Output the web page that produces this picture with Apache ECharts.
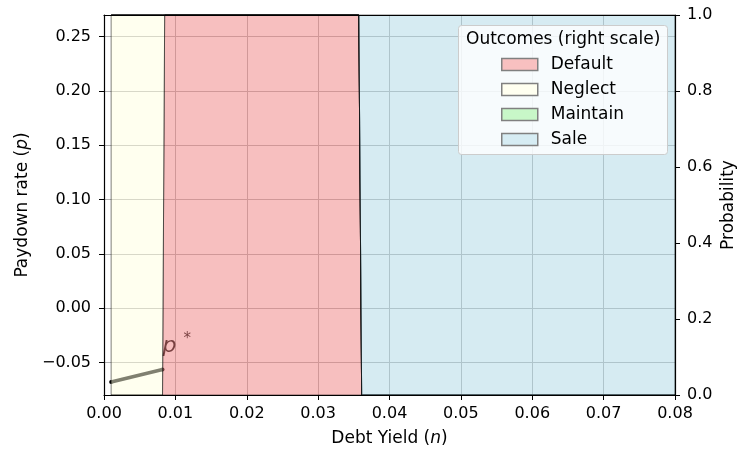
<!DOCTYPE html>
<html>
<head>
<meta charset="utf-8">
<script src="https://cdn.jsdelivr.net/npm/echarts@6/dist/echarts.min.js"></script>
<style>
  html, body { margin: 0; padding: 0; background: #fff; }
  #chart { width: 740px; height: 449px; }
</style>
</head>
<body>
<div id="chart"></div>
<script>
// Debt-yield grid where the outcome probabilities are sampled
const debtYield = [0.001, 0.0082, 0.0085, 0.0357, 0.0361, 0.08];
// Outcome probabilities (right scale), stacked in this order
const probDefault  = [0, 0, 1, 1, 0, 0];
const probNeglect  = [1, 1, 0, 0, 0, 0];
const probMaintain = [0, 0, 0, 0, 0, 0];
const probSale     = [0, 0, 0, 0, 1, 1];
// Optimal paydown rate p* over the neglect region
const pstarYield = [0.001, 0.0082];
const pstarRate  = [-0.068, -0.0565];
// Tick values
const paydownTicks = [-0.05, 0.00, 0.05, 0.10, 0.15, 0.20, 0.25];
const outcomeNames = ['Default', 'Neglect', 'Maintain', 'Sale'];
const outcomeColors = ['#f08080', '#ffffe0', '#90ee90', '#add8e6'];

const FONT = 'DejaVu Sans';
const FS_TICK = 16;
const FS_TEXT = 17;
const fmtMinus = (v, d) => v.toFixed(d).replace('-', '\u2212');

const chart = echarts.init(document.getElementById('chart'), null, { renderer: 'canvas' });

const rgba = (hex, a) => {
  const n = parseInt(hex.slice(1), 16);
  return `rgba(${(n >> 16) & 255},${(n >> 8) & 255},${n & 255},${a})`;
};
const blendHalf = (hex) => {
  const n = parseInt(hex.slice(1), 16);
  const m = (c) => Math.round((c + 255) / 2);
  return `rgb(${m((n >> 16) & 255)},${m((n >> 8) & 255)},${m(n & 255)})`;
};

// Cumulative bands of the stacked probabilities
const layers = [probDefault, probNeglect, probMaintain, probSale];
const bands = [];
let running = debtYield.map(() => 0);
layers.forEach((ys) => {
  const lower = running.slice();
  const upper = running.map((v, i) => v + ys[i]);
  bands.push({ lower, upper });
  running = upper;
});

// One filled polygon per outcome, edges drawn like a stackplot
const bandSeries = (idx) => ({
  name: outcomeNames[idx],
  type: 'custom',
  xAxisIndex: 0,
  yAxisIndex: 1,
  z: 3,
  data: debtYield.map((x, i) => [x, bands[idx].lower[i], bands[idx].upper[i]]),
  encode: { x: 0, y: [1, 2] },
  itemStyle: { color: outcomeColors[idx] },
  renderItem: (params, api) => {
    if (params.dataIndex !== 0) return null;
    const b = bands[idx];
    const pts = [];
    for (let i = 0; i < debtYield.length; i++) pts.push(api.coord([debtYield[i], b.upper[i]]));
    for (let i = debtYield.length - 1; i >= 0; i--) pts.push(api.coord([debtYield[i], b.lower[i]]));
    return {
      type: 'polygon',
      shape: { points: pts },
      style: { fill: rgba(outcomeColors[idx], 0.5), stroke: 'rgba(0,0,0,0.5)', lineWidth: 1 }
    };
  },
  animation: false
});

const pstarData = pstarYield.map((x, i) => {
  const p = [x, pstarRate[i]];
  if (i !== pstarYield.length - 1) return p;
  return {
    value: p,
    label: {
      show: true,
      position: [2, -36],
      align: 'left',
      verticalAlign: 'top',
      formatter: '{p|p}{s|*}',
      rich: {
        p: { fontFamily: FONT, fontStyle: 'italic', fontSize: 22, color: '#000' },
        s: { fontFamily: FONT, fontSize: 15, color: '#000', padding: [0, 0, 15, 7] }
      }
    }
  };
});

const option = {
  animation: false,
  backgroundColor: '#fff',
  textStyle: { fontFamily: FONT },
  grid: { left: 104, right: 65, top: 15, bottom: 54, containLabel: false, outerBoundsMode: 'none' },
  xAxis: [
    {
      type: 'value', position: 'bottom', min: 0, max: 0.08, interval: 0.01, z: 10,
      name: 'Debt Yield ({i|n})', nameLocation: 'middle', nameGap: 35,
      nameTextStyle: { fontFamily: FONT, fontSize: FS_TEXT, color: '#000',
        rich: { i: { fontFamily: FONT, fontStyle: 'italic', fontSize: FS_TEXT, color: '#000' } } },
      axisLine: { show: true, onZero: false, lineStyle: { color: '#000', width: 1.2 } },
      axisTick: { show: true, length: 5, lineStyle: { color: '#000', width: 1 } },
      axisLabel: { fontFamily: FONT, fontSize: FS_TICK, color: '#000', margin: 11, formatter: (v) => fmtMinus(v, 2) },
      splitLine: { show: false }
    },
    {
      type: 'value', position: 'bottom', min: 0, max: 0.08, interval: 0.01, z: 0,
      axisLine: { show: false }, axisTick: { show: false }, axisLabel: { show: false },
      splitLine: { show: true, lineStyle: { color: '#b0b0b0', width: 1 } }
    },
    {
      type: 'value', position: 'top', min: 0, max: 0.08, z: 10,
      axisLine: { show: true, onZero: false, lineStyle: { color: '#000', width: 1.2 } },
      axisTick: { show: false }, axisLabel: { show: false }, splitLine: { show: false }
    }
  ],
  yAxis: [
    {
      type: 'value', position: 'left', min: -0.08, max: 0.27, splitNumber: 7, z: 10,
      name: 'Paydown rate ({i|p})', nameLocation: 'middle', nameGap: 61,
      nameTextStyle: { fontFamily: FONT, fontSize: FS_TEXT, color: '#000',
        rich: { i: { fontFamily: FONT, fontStyle: 'italic', fontSize: FS_TEXT, color: '#000' } } },
      axisLine: { show: true, onZero: false, lineStyle: { color: '#000', width: 1.2 } },
      axisTick: { show: true, length: 5, customValues: paydownTicks, lineStyle: { color: '#000', width: 1 } },
      axisLabel: { fontFamily: FONT, fontSize: FS_TICK, color: '#000', margin: 13, customValues: paydownTicks,
        formatter: (v) => fmtMinus(v, 2) },
      splitLine: { show: false }
    },
    {
      type: 'value', position: 'right', min: 0, max: 1, interval: 0.2, z: 10,
      name: 'Probability', nameLocation: 'middle', nameGap: 45, nameMoveOverlap: false,
      nameTextStyle: { fontFamily: FONT, fontSize: FS_TEXT, color: '#000' },
      axisLine: { show: true, onZero: false, lineStyle: { color: '#000', width: 1.2 } },
      axisTick: { show: true, length: 5, lineStyle: { color: '#000', width: 1 } },
      axisLabel: { fontFamily: FONT, fontSize: FS_TICK, color: '#000', margin: 12, formatter: (v) => fmtMinus(v, 1) },
      splitLine: { show: false }
    },
    {
      type: 'value', position: 'left', min: -0.08, max: 0.27, splitNumber: 7, z: 0,
      axisLine: { show: false }, axisTick: { show: false }, axisLabel: { show: false },
      splitLine: { show: true, lineStyle: { color: '#b0b0b0', width: 1 } }
    }
  ],
  legend: {
    orient: 'vertical', left: 501, top: 56, z: 101, padding: 0,
    itemWidth: 36, itemHeight: 12, itemGap: 8,
    icon: 'rect',
    textStyle: { fontFamily: FONT, fontSize: FS_TEXT, lineHeight: 17, color: '#000', padding: [0, 0, 0, 8] },
    data: outcomeNames.map((n, i) => ({
      name: n,
      itemStyle: { color: blendHalf(outcomeColors[i]), borderColor: '#808080', borderWidth: 1.5, opacity: 1 }
    })),
    selectedMode: false
  },
  graphic: [
    {
      type: 'rect', z: 100, left: 458, top: 25,
      shape: { width: 209, height: 129, r: 3 },
      style: { fill: 'rgba(255,255,255,0.8)', stroke: '#cccccc', lineWidth: 1 }
    },
    {
      type: 'text', z: 101, left: 466, top: 31,
      style: { text: 'Outcomes (right scale)', font: `${FS_TEXT}px "${FONT}"`, fill: '#000' }
    }
  ],
  series: [
    {
      name: 'p*', type: 'line', xAxisIndex: 0, yAxisIndex: 0, z: 1,
      data: pstarData,
      symbol: 'circle', symbolSize: 4, showSymbol: true,
      itemStyle: { color: '#000' },
      lineStyle: { color: '#000', width: 3.5 },
      animation: false
    },
    bandSeries(0),
    bandSeries(1),
    bandSeries(2),
    bandSeries(3)
  ]
};

chart.setOption(option);
</script>
</body>
</html>
